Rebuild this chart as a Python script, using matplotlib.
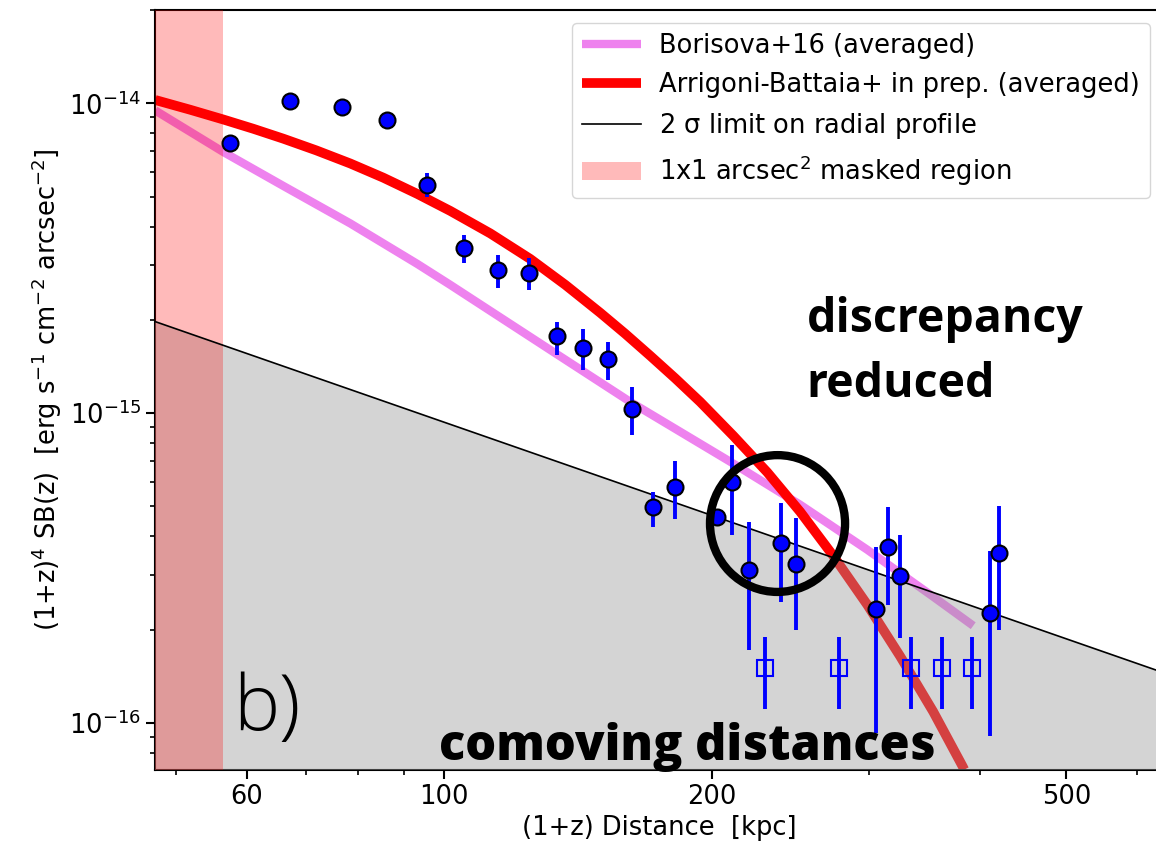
import matplotlib
matplotlib.use("Agg")
import matplotlib.pyplot as plt
from matplotlib.patches import Ellipse
from matplotlib.ticker import FixedLocator, FixedFormatter, NullFormatter, LogLocator

# ---------------- data ----------------
dist = [57.5, 67.1, 76.7, 86.2, 95.6, 105.1, 114.9, 124.6, 133.8, 143.3, 152.9, 162.5,
        171.7, 181.7, 202.6, 210.6, 220.1, 238.9, 248.5, 305.7, 315.3, 324.7, 409.9, 420.3]
sb = [7.43e-15, 1.019e-14, 9.75e-15, 8.83e-15, 5.45e-15, 3.40e-15, 2.90e-15, 2.83e-15,
      1.77e-15, 1.62e-15, 1.49e-15, 1.03e-15, 4.99e-16, 5.78e-16, 4.63e-16, 6.00e-16,
      3.12e-16, 3.82e-16, 3.27e-16, 2.34e-16, 3.70e-16, 2.99e-16, 2.27e-16, 3.54e-16]
sb_hi = [7.7e-15, 1.05e-14, 1.0e-14, 9.1e-15, 5.96e-15, 3.76e-15, 3.24e-15, 3.17e-15,
         1.975e-15, 1.87e-15, 1.70e-15, 1.21e-15, 5.57e-16, 7.02e-16, 4.9e-16, 7.90e-16,
         4.46e-16, 5.14e-16, 4.60e-16, 3.70e-16, 4.99e-16, 4.05e-16, 3.60e-16, 5.02e-16]
sb_lo = [7.2e-15, 9.9e-15, 9.5e-15, 8.55e-15, 4.99e-15, 3.05e-15, 2.54e-15, 2.50e-15,
         1.54e-15, 1.38e-15, 1.28e-15, 8.51e-16, 4.30e-16, 4.56e-16, 4.35e-16, 4.05e-16,
         1.72e-16, 2.46e-16, 1.99e-16, 9.3e-17, 2.41e-16, 1.88e-16, 9.1e-17, 1.99e-16]

sq_dist = [229.4, 277.3, 334.4, 362.8, 391.6]
sq_sb = [1.51e-16, 1.51e-16, 1.51e-16, 1.51e-16, 1.51e-16]
sq_hi = [1.90e-16, 1.90e-16, 1.90e-16, 1.90e-16, 1.90e-16]
sq_lo = [1.11e-16, 1.11e-16, 1.11e-16, 1.11e-16, 1.11e-16]

bor_dist = [47.33, 56.43, 65.92, 78.39, 93.25, 101.54, 131.5, 161.8, 209.6, 251.1,
            298.7, 354.3, 392.9]
bor_sb = [9.48e-15, 6.966e-15, 5.411e-15, 4.095e-15, 3.03e-15, 2.594e-15, 1.6e-15,
          1.087e-15, 6.965e-16, 5.061e-16, 3.623e-16, 2.555e-16, 2.06e-16]

ab_dist = [47.33, 51.82, 56.43, 61.00, 65.92, 71.79, 78.39, 85.37, 93.25, 101.54, 112.62,
           124.89, 136.76, 149.70, 159.70, 170.37, 181.74, 193.87, 211.2, 230.6, 251.1,
           273.5, 298.7, 325.2, 354.3, 381.9, 383.9]
ab_sb = [1.0248e-14, 9.529e-15, 8.866e-15, 8.274e-15, 7.687e-15, 7.047e-15, 6.393e-15,
         5.754e-15, 5.098e-15, 4.494e-15, 3.802e-15, 3.145e-15, 2.594e-15, 2.107e-15,
         1.803e-15, 1.531e-15, 1.295e-15, 1.087e-15, 8.45e-16, 6.443e-16, 4.804e-16,
         3.464e-16, 2.407e-16, 1.642e-16, 1.087e-16, 7.281e-17, 7.069e-17]

limit_dist = [47.3, 642.0]
limit_sb = [1.975e-15, 1.455e-16]

mask_edge = 56.4
xlim = (47.3, 642.0)
ylim = (7.05e-17, 2.0e-14)
xticks_major = [60, 100, 200, 500]
xtick_labels = ["60", "100", "200", "500"]
xticks_minor = [50, 70, 80, 90, 300, 400, 600]
yticks_major = [1e-16, 1e-15, 1e-14]

# ---------------- style ----------------
plt.rcParams.update({
    "font.size": 18.5,
    "axes.linewidth": 1.5,
    "xtick.major.size": 6.5, "xtick.major.width": 1.5,
    "ytick.major.size": 6.5, "ytick.major.width": 1.5,
    "xtick.minor.size": 3.7, "xtick.minor.width": 1.2,
    "ytick.minor.size": 3.7, "ytick.minor.width": 1.2,
    "mathtext.default": "regular",
})

fig = plt.figure(figsize=(11.56, 8.52), dpi=100)
ax = fig.add_axes([155 / 1156, 82 / 852, 1008 / 1156, 760 / 852])
ax.set_xscale("log")
ax.set_yscale("log")

ax.plot(bor_dist, bor_sb, color="violet", lw=6, solid_capstyle="butt",
        solid_joinstyle="round", label="Borisova+16 (averaged)", zorder=2)
ax.plot(ab_dist, ab_sb, color="red", lw=7, solid_capstyle="butt",
        solid_joinstyle="round", label="Arrigoni-Battaia+ in prep. (averaged)", zorder=2)
ax.fill_between(limit_dist, limit_sb, [1e-18, 1e-18], color="#999999", alpha=0.42,
                lw=0, zorder=3)
ax.plot(limit_dist, limit_sb, color="black", lw=1.2,
        label=r"2 $\sigma$ limit on radial profile", zorder=4)
ax.axvspan(30, mask_edge, color="red", alpha=0.27, lw=0,
           label=r"1x1 arcsec$^2$ masked region", zorder=3.5)

yerr = [[s - l for s, l in zip(sb, sb_lo)], [h - s for s, h in zip(sb, sb_hi)]]
ax.errorbar(dist, sb, yerr=yerr, fmt="o", color="blue", mfc="blue", mec="black",
            mew=1.5, ms=11.5, elinewidth=2.8, capsize=0, zorder=5)
sq_err = [[s - l for s, l in zip(sq_sb, sq_lo)], [h - s for s, h in zip(sq_sb, sq_hi)]]
ax.errorbar(sq_dist, sq_sb, yerr=sq_err, fmt="s", color="blue", mfc="none", mec="blue",
            mew=1.5, ms=11.5, elinewidth=2.8, capsize=0, zorder=5)

ax.set_xlim(*xlim)
ax.set_ylim(*ylim)
ax.xaxis.set_major_locator(FixedLocator(xticks_major))
ax.xaxis.set_major_formatter(FixedFormatter(xtick_labels))
ax.xaxis.set_minor_locator(FixedLocator(xticks_minor))
ax.xaxis.set_minor_formatter(NullFormatter())
ax.yaxis.set_major_locator(FixedLocator(yticks_major))
ax.yaxis.set_minor_locator(LogLocator(base=10, subs=(2, 3, 4, 5, 6, 7, 8, 9)))
ax.yaxis.set_minor_formatter(NullFormatter())

ax.set_xlabel("(1+z) Distance  [kpc]")
ax.set_ylabel(r"(1+z)$^4$ SB(z)  [erg s$^{-1}$ cm$^{-2}$ arcsec$^{-2}$]")

ax.legend(loc="upper right", fontsize=18.5, handlelength=2.3, handletextpad=0.7,
          borderaxespad=0.5, framealpha=0.8)

ax.add_patch(Ellipse((0.6176, 0.3243), 0.134, 0.180, transform=ax.transAxes,
                     fill=False, ec="black", lw=6.0, zorder=8))

ax.text(0.6465, 0.5767, "discrepancy", transform=ax.transAxes, fontsize=33.5,
        family=["Open Sans", "DejaVu Sans"], weight="bold", ha="left",
        va="baseline", zorder=9)
ax.text(0.6465, 0.4912, "reduced", transform=ax.transAxes, fontsize=33.5,
        family=["Open Sans", "DejaVu Sans"], weight="bold", ha="left",
        va="baseline", zorder=9)
ax.text(0.2817, 0.0132, "comoving distances", transform=ax.transAxes, fontsize=35,
        family=["Open Sans", "DejaVu Sans"], weight="heavy", ha="left",
        va="baseline", zorder=9)
ax.text(0.0774, 0.0526, "b)", transform=ax.transAxes, fontsize=56,
        family=["Open Sans", "DejaVu Sans"], weight="light", ha="left",
        va="baseline", zorder=9)

fig.savefig("out.png", dpi=100)
